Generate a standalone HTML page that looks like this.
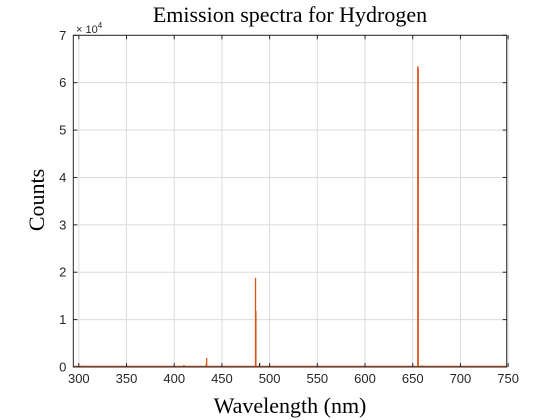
<!DOCTYPE html>
<html><head><meta charset="utf-8"><style>
body{margin:0;background:#fff;}
svg{display:block;font-family:"Liberation Sans",sans-serif;}
</style></head><body>
<svg id="chart" width="560" height="420" viewBox="0 0 560 420">
<rect x="0" y="0" width="560" height="420" fill="#fff"/>
<text x="290" y="22" text-anchor="middle" font-family="Liberation Serif,serif" font-size="22" fill="#000">Emission spectra for Hydrogen</text>
<text x="290" y="413" text-anchor="middle" font-family="Liberation Serif,serif" font-size="22" fill="#000">Wavelength (nm)</text>
<text transform="translate(44,200) rotate(-90)" text-anchor="middle" font-family="Liberation Serif,serif" font-size="22" fill="#000">Counts</text>
<g id="grid"></g>
<g id="marks"></g>
<g id="axes"></g>
<text x="76" y="33" font-size="11" fill="#262626">× 10<tspan dy="-5" font-size="8">4</tspan></text>
</svg>
<script>
const xTicks=[300,350,400,450,500,550,600,650,700,750];
const yTicks=[0,1,2,3,4,5,6,7];
const orangeWl=[485.2,485.6,655.3,655.8,434.0,433.6,410.2,305,320,335,380,520,560,600,690,720,745];
const orangeCounts=[18800,11800,63500,63000,1900,700,450,150,120,180,100,120,90,100,150,120,100];
const blackWl=[302,312,325,340,489.5,575,660,705,740];
const blackCounts=[250,200,150,200,800,120,300,150,200];
const NS="http://www.w3.org/2000/svg";
const L=73.3,R=506.7,T=35.3,B=367;
const xmin=294.2,xmax=748.5,ymax=70000;
function sx(v){return L+(v-xmin)/(xmax-xmin)*(R-L);}
function sy(v){return B-v/ymax*(B-T);}
function mk(tag,at,parent){const e=document.createElementNS(NS,tag);for(const k in at)e.setAttribute(k,at[k]);parent.appendChild(e);return e;}
const grid=document.getElementById('grid'),marks=document.getElementById('marks'),axes=document.getElementById('axes');
xTicks.forEach(t=>{
 const g=mk('line',{x1:sx(t),x2:sx(t),y1:T,y2:B,stroke:'#dcdcdc','stroke-width':1},grid);
 
 
 const k=mk('line',{x1:sx(t),x2:sx(t),y1:B,y2:B-4,stroke:'#262626','stroke-width':1},axes);
 
 
 const k2=mk('line',{x1:sx(t),x2:sx(t),y1:T,y2:T+4,stroke:'#262626','stroke-width':1},axes);
 
 
 const tx=mk('text',{x:sx(t),y:B+16,'text-anchor':'middle','font-size':13,fill:'#262626'},axes);
 tx.textContent=t;
 
 
});
yTicks.forEach(t=>{
 const y=sy(t*10000);
 const g=mk('line',{x1:L,x2:R,y1:y,y2:y,stroke:'#dcdcdc','stroke-width':1},grid);
 
 
 const k=mk('line',{x1:L,x2:L+4,y1:y,y2:y,stroke:'#262626','stroke-width':1},axes);
 
 
 const k2=mk('line',{x1:R,x2:R-4,y1:y,y2:y,stroke:'#262626','stroke-width':1},axes);
 
 
 const tx=mk('text',{x:L-7,y:y+4.5,'text-anchor':'end','font-size':13,fill:'#262626'},axes);
 tx.textContent=t;
 
 
});
blackWl.forEach((w,i)=>{
 const b=mk('line',{x1:sx(w),x2:sx(w),y1:B,y2:sy(blackCounts[i]),stroke:'#000','stroke-width':1.2},marks);
 
 
});
const base=mk('line',{x1:L,x2:R,y1:B-0.5,y2:B-0.5,stroke:'#d95319','stroke-width':1.5},marks);


orangeWl.forEach((w,i)=>{
 const b=mk('line',{x1:sx(w),x2:sx(w),y1:B,y2:sy(orangeCounts[i]),stroke:'#d95319','stroke-width':1.3},marks);
 
 
});
const box=mk('rect',{x:L,y:T,width:R-L,height:B-T,fill:'none',stroke:'#262626','stroke-width':1},axes);


</script>
</body></html>
